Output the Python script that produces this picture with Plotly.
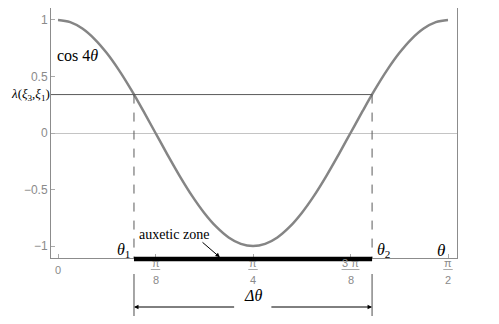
import math
import plotly.graph_objects as go

# ---- data ----
theta_k = list(range(33))                     # samples at k*pi/64
cos4 = [1, 0.981, 0.924, 0.831, 0.707, 0.556, 0.383, 0.195, 0,
        -0.195, -0.383, -0.556, -0.707, -0.831, -0.924, -0.981, -1,
        -0.981, -0.924, -0.831, -0.707, -0.556, -0.383, -0.195, 0,
        0.195, 0.383, 0.556, 0.707, 0.831, 0.924, 0.981, 1]
lam = 0.34
theta1 = 0.306
theta2 = 1.265
xtick_vals = [0, math.pi / 8, math.pi / 4, 3 * math.pi / 8, math.pi / 2]
xtick_num = ["0", "π", "π", "3 π", "π"]
xtick_den = ["", "8", "4", "8", "2"]
ytick_vals = [-1, -0.5, 0, 0.5, 1]
ytick_text = ["−1", "−0.5", "0", "0.5", "1"]

theta = [k * math.pi / 64 for k in theta_k]

XMIN, XMAX = -0.0282, 1.607
YMIN, YMAX = -1.106, 1.106

GRAY = "#8a8a8a"
SERIF = "Liberation Serif"
SANS = "Liberation Sans"

fig = go.Figure()

# cos 4θ curve
fig.add_trace(go.Scatter(x=theta, y=cos4, mode="lines", line_shape="spline",
                         line=dict(color="#858585", width=2.5), hoverinfo="skip"))
# lambda horizontal line
fig.add_trace(go.Scatter(x=[XMIN, theta2], y=[lam, lam], mode="lines",
                         line=dict(color="#5a5a5a", width=1), hoverinfo="skip"))
# dashed verticals
for t in (theta1, theta2):
    fig.add_trace(go.Scatter(x=[t, t], y=[lam, YMIN], mode="lines",
                             line=dict(color="#5a5a5a", width=1, dash="dash"),
                             hoverinfo="skip"))

# thick auxetic bar on axis
fig.add_shape(type="line", xref="x", yref="paper", x0=theta1, x1=theta2,
              y0=-0.004, y1=-0.004, line=dict(color="black", width=4.5), layer="above")

# vertical gray lines below axis
for t in (theta1, theta2):
    fig.add_shape(type="line", xref="x", yref="paper", x0=t, x1=t,
                  y0=-0.064, y1=-0.232, line=dict(color="#888888", width=1.5))

ann = []
# x tick labels (fractions)
for v, num, den in zip(xtick_vals, xtick_num, xtick_den):
    if den == "":
        ann.append(dict(x=v, y=-0.048, xref="x", yref="paper", text=num, showarrow=False,
                        xanchor="center", yanchor="middle",
                        font=dict(family=SANS, size=11, color=GRAY)))
        continue
    ann.append(dict(x=v, y=-0.02, xref="x", yref="paper", text=num,
                    showarrow=False, xanchor="center", yanchor="middle",
                    font=dict(family=SANS, size=11, color=GRAY)))
    ann.append(dict(x=v, y=-0.088, xref="x", yref="paper", text=den,
                    showarrow=False, xanchor="center", yanchor="middle",
                    font=dict(family=SANS, size=11, color=GRAY)))
    half = 0.036 if len(num) > 1 else 0.019
    fig.add_shape(type="line", xref="x", yref="paper", x0=v - half, x1=v + half,
                  y0=-0.046, y1=-0.046, line=dict(color="#aaaaaa", width=1))
# Δθ arrows
mid = math.pi / 4
ann.append(dict(x=theta1, y=-0.196, xref="x", yref="paper", ax=mid - 0.07, ay=0,
                axref="x", ayref="pixel", text="", showarrow=True, arrowhead=2,
                arrowsize=0.9, arrowwidth=1, arrowcolor="black"))
ann.append(dict(x=theta2, y=-0.196, xref="x", yref="paper", ax=mid + 0.068, ay=0,
                axref="x", ayref="pixel", text="", showarrow=True, arrowhead=2,
                arrowsize=0.9, arrowwidth=1, arrowcolor="black"))
ann.append(dict(x=mid, y=-0.19, xref="x", yref="paper", text="<i>Δθ</i>",
                showarrow=False, font=dict(family=SERIF, size=16, color="black")))
# auxetic zone
ann.append(dict(x=0.318, y=-0.894, xref="x", yref="y", text="auxetic zone",
                showarrow=False, xanchor="left",
                font=dict(family=SERIF, size=14, color="black")))
ann.append(dict(x=0.652, y=-1.1, xref="x", yref="y", ax=0.576, ay=-0.956,
                axref="x", ayref="y", text="", showarrow=True, arrowhead=2,
                arrowsize=0.9, arrowwidth=1, arrowcolor="black"))
# theta labels
ann.append(dict(x=0.3, y=-1.044, xref="x", yref="y", text="<i>θ</i><sub>1</sub>",
                showarrow=False, xanchor="right",
                font=dict(family=SERIF, size=16, color="black")))
ann.append(dict(x=1.277, y=-1.044, xref="x", yref="y", text="<i>θ</i><sub>2</sub>",
                showarrow=False, xanchor="left",
                font=dict(family=SERIF, size=16, color="black")))
ann.append(dict(x=1.542, y=-1.04, xref="x", yref="y", text="<i>θ</i>",
                showarrow=False, xanchor="center",
                font=dict(family=SERIF, size=17, color="black")))
# cos 4θ label
ann.append(dict(x=-0.014, y=0.69, xref="x", yref="y", text="cos 4<i>θ</i>",
                showarrow=False, xanchor="left",
                font=dict(family=SERIF, size=16, color="black")))
# lambda label
ann.append(dict(x=0, y=lam, xref="paper", yref="y",
                text="<i>λ</i>(<i>ξ</i><sub>3</sub>,<i>ξ</i><sub>1</sub>)",
                showarrow=False, xanchor="right", xshift=1,
                font=dict(family=SERIF, size=13, color="black")))

fig.update_layout(
    template="none",
    width=491, height=316,
    margin=dict(l=43, r=42, t=0, b=66, pad=0, autoexpand=False),
    paper_bgcolor="white", plot_bgcolor="white",
    showlegend=False,
    annotations=ann,
    xaxis=dict(range=[XMIN, XMAX], showgrid=False, zeroline=False, automargin=False,
               showline=True, linecolor="#8c8c8c", linewidth=1, mirror=True,
               tickvals=xtick_vals, showticklabels=False,
               ticks="inside", ticklen=4, tickcolor="#aaaaaa"),
    yaxis=dict(range=[YMIN, YMAX], showgrid=False, automargin=False,
               zeroline=True, zerolinecolor="#c4c4c4", zerolinewidth=1,
               showline=True, linecolor="#8c8c8c", linewidth=1, mirror=True,
               tickvals=ytick_vals, ticktext=ytick_text,
               ticks="inside", ticklen=4, tickcolor="#aaaaaa",
               tickfont=dict(family=SANS, size=12, color=GRAY)),
)

fig.write_html("out.html")
